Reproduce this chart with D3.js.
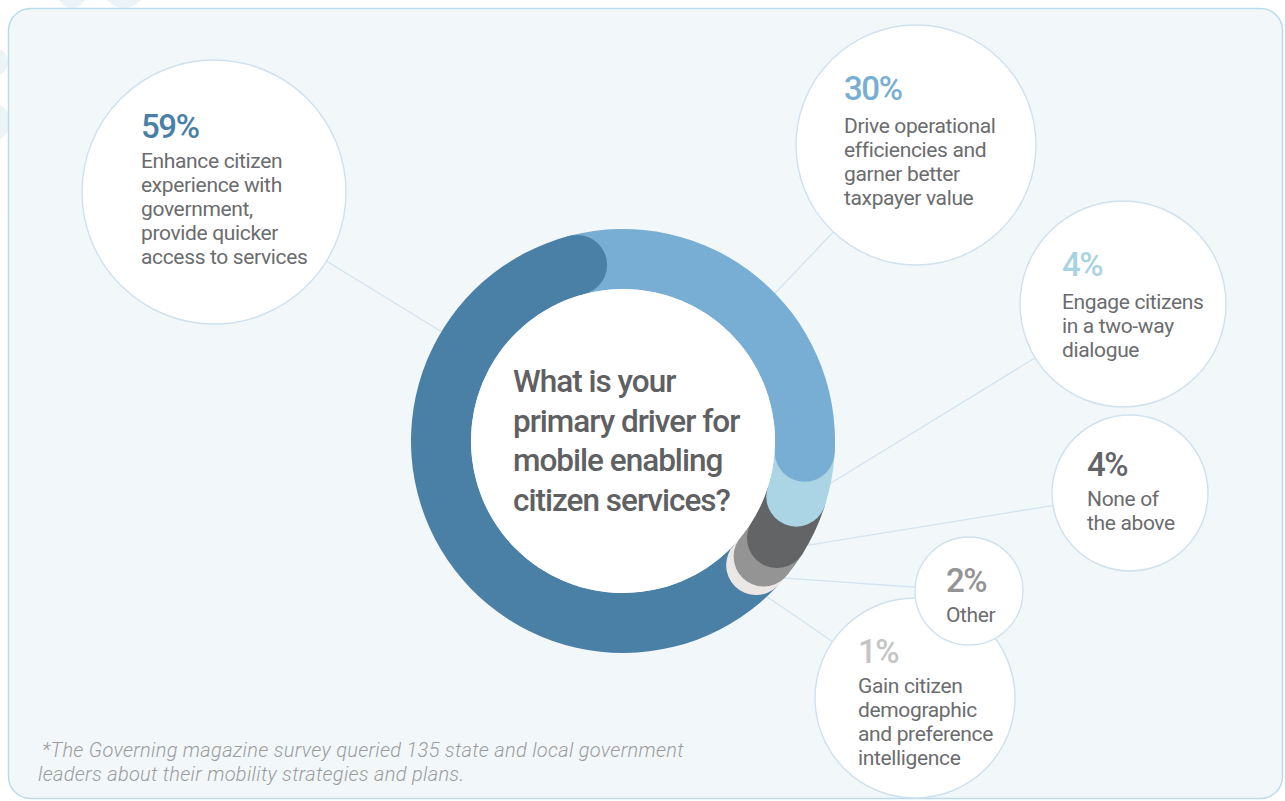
<!DOCTYPE html>
<html>
<head>
<meta charset="utf-8">
<script src="https://cdn.jsdelivr.net/npm/d3@7"></script>
<style>
  html, body { margin: 0; padding: 0; background: #ffffff; }
  svg { display: block; }
</style>
</head>
<body>
<script>
// Survey answers, in clockwise ring order starting at the top
const categories = [
  "Drive operational efficiencies and garner better taxpayer value",
  "Engage citizens in a two-way dialogue",
  "None of the above",
  "Other",
  "Gain citizen demographic and preference intelligence",
  "Enhance citizen experience with government, provide quicker access to services"
];
const values = [30, 4, 4, 2, 1, 59];
const labelLines = [
  ["Drive operational", "efficiencies and", "garner better", "taxpayer value"],
  ["Engage citizens", "in a two-way", "dialogue"],
  ["None of", "the above"],
  ["Other"],
  ["Gain citizen", "demographic", "and preference", "intelligence"],
  ["Enhance citizen", "experience with", "government,", "provide quicker", "access to services"]
];
const question = ["What is your", "primary driver for", "mobile enabling", "citizen services?"];
const footnote = [
  "*The Governing magazine survey queried 135 state and local government",
  "leaders about their mobility strategies and plans."
];

// Styling
const ringColors  = ["#78aed3", "#abd5e4", "#636466", "#949494", "#ebe7e5", "#4a7fa6"];
const valueColors = ["#78aed3", "#a8d3e3", "#636466", "#949494", "#c4c4c4", "#4a7fa6"];
const textColor = "#6b6c6e";

// Bubble layout (same order as the data); leader = angle on the ring the connector points to
const bubbles = [
  { cx: 916,  cy: 145, r: 120, tx: 844,  py: 100, by: 133, leader: 46 },
  { cx: 1123, cy: 304, r: 103, tx: 1062, py: 276, by: 309, leader: 106 },
  { cx: 1130, cy: 493, r: 78,  tx: 1087, py: 476, by: 506, leader: 123.3 },
  { cx: 969,  cy: 591, r: 54,  tx: 946,  py: 592, by: 622, leader: 133.8 },
  { cx: 915,  cy: 698, r: 100, tx: 858,  py: 663, by: 693, leader: 138.3 },
  { cx: 214,  cy: 192, r: 132, tx: 141,  py: 138, by: 168, leader: 301 }
];
const bubbleOrder = [5, 0, 1, 2, 4, 3];

const W = 1285, H = 801;
const cx = 623, cy = 441;
const rOuter = 212, rInner = 152, rMid = (rOuter + rInner) / 2, capR = (rOuter - rInner) / 2;
const rad = d => d * Math.PI / 180;
const startAngle = rad(-14.6);

const svg = d3.select("body").append("svg").attr("width", W).attr("height", H);

// faint decoration behind the panel
const deco = svg.append("g").attr("fill", "#edf4f8");
[[72, -6, 14], [124, -14, 22], [-6, 62, 14], [-10, 122, 20]].forEach(([x, y, r]) =>
  deco.append("circle").attr("cx", x).attr("cy", y).attr("r", r));

// panel
svg.append("rect")
  .attr("x", 8.5).attr("y", 8.5).attr("width", 1274).attr("height", 790)
  .attr("rx", 22).attr("ry", 22)
  .attr("fill", "#f2f7fa").attr("stroke", "#b9dbea").attr("stroke-width", 1.5);

const pie = d3.pie().sort(null).value(d => d)
  .startAngle(startAngle).endAngle(startAngle + 2 * Math.PI);
const arcs = pie(values);
const polar = (a, r) => [cx + r * Math.sin(a), cy - r * Math.cos(a)];

// leader lines (under ring and bubbles)
const leaders = svg.append("g").attr("stroke", "#d3e4f0").attr("stroke-width", 1.3);
bubbles.forEach(b => {
  const [x2, y2] = polar(rad(b.leader), 196);
  leaders.append("line").attr("x1", b.cx).attr("y1", b.cy).attr("x2", x2).attr("y2", y2);
});

// ring
const ring = svg.append("g");
const arcGen = d3.arc().innerRadius(rInner).outerRadius(rOuter);
ring.selectAll("path.seg").data(arcs).join("path")
  .attr("class", "seg")
  .attr("transform", `translate(${cx},${cy})`)
  .attr("d", arcGen)
  .attr("fill", (d, i) => ringColors[i]);

// rounded end caps, later segments first so each cap sits over the next segment
const capOrder = d3.range(arcs.length).reverse();
capOrder.forEach(i => {
  const [x, y] = polar(arcs[i].endAngle, rMid);
  ring.append("circle").attr("cx", x).attr("cy", y).attr("r", capR).attr("fill", ringColors[i]);
});

// hole
svg.append("circle").attr("cx", cx).attr("cy", cy).attr("r", rInner).attr("fill", "#ffffff");

// question text
const q = svg.append("text")
  .attr("font-family", "Roboto, 'Open Sans', sans-serif")
  .attr("font-size", 31.5).attr("font-weight", 500).attr("fill", "#5f6062")
  .attr("letter-spacing", -1.0);
question.forEach((t, i) => q.append("tspan").attr("x", 513).attr("y", 392 + i * 39.5).text(t));

// bubbles
const bg = svg.append("g");
bubbleOrder.forEach(i => {
  const b = bubbles[i];
  bg.append("circle").attr("cx", b.cx).attr("cy", b.cy).attr("r", b.r)
    .attr("fill", "#ffffff").attr("stroke", "#cfe1ee").attr("stroke-width", 1.4);
  bg.append("text")
    .attr("x", b.tx).attr("y", b.py)
    .attr("font-family", "Roboto, sans-serif").attr("font-size", 33).attr("font-weight", 500)
    .attr("letter-spacing", -1.4)
    .attr("fill", valueColors[i])
    .text(values[i] + "%");
  const body = bg.append("text")
    .attr("font-family", "Roboto, sans-serif").attr("font-size", 21).attr("font-weight", 400)
    .attr("letter-spacing", -0.35)
    .attr("fill", textColor);
  labelLines[i].forEach((t, k) => body.append("tspan").attr("x", b.tx).attr("y", b.by + k * 24).text(t));
});

// footnote
const fn = svg.append("text")
  .attr("font-family", "Roboto, 'Liberation Sans', sans-serif")
  .attr("font-size", 20).attr("font-style", "italic").attr("font-weight", 300)
  .attr("letter-spacing", 0.3)
  .attr("fill", "#9c9c9c");
footnote.forEach((t, i) => fn.append("tspan").attr("x", i === 0 ? 42 : 38).attr("y", 757 + i * 24).text(t));
</script>
</body>
</html>
